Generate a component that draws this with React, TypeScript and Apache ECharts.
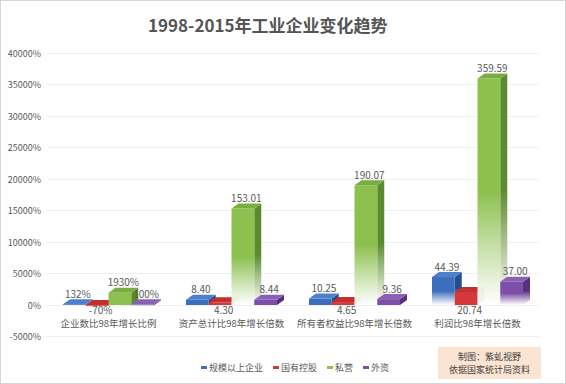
import React, { useEffect, useRef } from "react";
import * as echarts from "echarts";

const categories = ["企业数比98年增长比例", "资产总计比98年增长倍数", "所有者权益比98年增长倍数", "利润比98年增长倍数"];
const seriesNames = ["规模以上企业", "国有控股", "私营", "外资"];
// bar heights in % (倍数 × 100 for the last three groups)
const valScale = [132, 840, 1025, 4439];
const valState = [-70, 430, 465, 2074];
const valPrivate = [1930, 15301, 19007, 35959];
const valForeign = [100, 844, 936, 3700];
// data labels as shown
const lblScale = ["132%", "8.40", "10.25", "44.39"];
const lblState = ["-70%", "4.30", "4.65", "20.74"];
const lblPrivate = ["1930%", "153.01", "190.07", "359.59"];
const lblForeign = ["100%", "8.44", "9.36", "37.00"];
const yTicks = { min: -5000, max: 40000, interval: 5000 };

const FONT = "Noto Sans CJK SC";
const colors = [
  { front: "#3b6fbd", side: "#264f8c", top: "#4d80cc" },
  { front: "#d5383b", side: "#9a2226", top: "#c2302f" },
  { front: "#8cc04f", side: "#5c8a2e", top: "#7aad40" },
  { front: "#7e4fa8", side: "#57317d", top: "#8d60b8" },
];

const values = [valScale, valState, valPrivate, valForeign];
const labels = [lblScale, lblState, lblPrivate, lblForeign];

function makeRender(si: number) {
  return (params: any, api: any) => {
    const ci = api.value(0);
    const v = api.value(1);
    const top = api.coord([ci, v]);
    const base = api.coord([ci, 0]);
    const cw = api.size([1, 0])[0];
    const bw = cw * 0.185;
    const dx = 7;
    const dy = 5;
    const x0 = top[0] - 2 * bw + si * bw;
    const yTop = Math.min(top[1], base[1]);
    const yBot = Math.max(top[1], base[1]);
    const h = Math.max(yBot - yTop, 0.8);
    const c = colors[si];
    const fade = (col: string) =>
      new echarts.graphic.LinearGradient(0, 0, 0, 1, [
        { offset: 0, color: col },
        { offset: 0.5, color: col },
        { offset: 1, color: "rgba(255,255,255,0.95)" },
      ]);
    const lbl = labels[si][params.dataIndex];
    const lx = x0 + bw / 2 + dx / 2;
    const isBelow = si === 1;
    return {
      type: "group",
      children: [
        {
          type: "polygon",
          shape: { points: [[x0 + bw, yTop], [x0 + bw + dx, yTop - dy], [x0 + bw + dx, yTop + h - dy], [x0 + bw, yTop + h]] },
          style: { fill: h > 20 ? fade(c.side) : c.side },
        },
        {
          type: "rect",
          shape: { x: x0, y: yTop, width: bw, height: h },
          style: { fill: h > 20 ? fade(c.front) : c.front },
        },
        {
          type: "polygon",
          shape: { points: [[x0, yTop], [x0 + dx, yTop - dy], [x0 + bw + dx, yTop - dy], [x0 + bw, yTop]] },
          style: { fill: c.top },
        },
        {
          type: "text",
          style: {
            text: lbl,
            x: lx,
            y: isBelow ? yTop + h - 1 : yTop - dy - 1,
            align: "center",
            verticalAlign: isBelow ? "top" : "bottom",
            fontSize: 10,
            fontFamily: FONT,
            fill: "#595959",
          },
          z2: 10,
        },
      ],
    };
  };
}

export default function App() {
  const ref = useRef<HTMLDivElement>(null);
  useEffect(() => {
    if (!ref.current) return;
    const chart = echarts.init(ref.current, undefined, { renderer: "svg" });
    chart.setOption({
      animation: false,
      backgroundColor: "#ffffff",
      textStyle: { fontFamily: FONT },
      title: {
        text: "1998-2015年工业企业变化趋势",
        left: 142,
        top: 10,
        textStyle: { fontSize: 17, fontWeight: "bold", color: "#555555", fontFamily: FONT },
      },
      legend: {
        data: seriesNames,
        left: 195,
        top: 357,
        itemWidth: 6,
        itemHeight: 3,
        itemGap: 10,
        icon: "rect",
        textStyle: { fontSize: 9, color: "#595959", fontFamily: FONT, padding: [0, 0, 0, -3] },
      },
      grid: { left: 46, right: 26, top: 52, bottom: 46.5 },
      xAxis: {
        type: "category",
        data: categories,
        axisLine: { show: false },
        axisTick: { show: false },
        axisLabel: {
          interval: 0,
          fontSize: 9.5,
          color: "#595959",
          margin: -18,
          verticalAlign: "top",
          fontFamily: FONT,
        },
      },
      yAxis: {
        type: "value",
        min: yTicks.min,
        max: yTicks.max,
        interval: yTicks.interval,
        axisLine: { show: false },
        axisTick: { show: false },
        splitLine: { lineStyle: { color: "#efefef", width: 1 } },
        axisLabel: {
          formatter: (v: number) => v + "%",
          fontSize: 9,
          color: "#595959",
          margin: 6,
          padding: [12, 0, 0, 0],
          fontFamily: FONT,
        },
      },
      graphic: [
        {
          type: "group",
          left: 437,
          top: 346,
          children: [
            { type: "rect", shape: { x: 0, y: 0, width: 103, height: 32 }, style: { fill: "#fce4d3" } },
            {
              type: "text",
              style: {
                text: "制图：紫虬视野\n依据国家统计局资料",
                x: 51.5,
                y: 16,
                align: "center",
                verticalAlign: "middle",
                fontSize: 9,
                lineHeight: 13,
                fontFamily: FONT,
                fill: "#404040",
              },
            },
          ],
        },
      ],
      series: values.map((vals, si) => ({
        type: "custom",
        name: seriesNames[si],
        itemStyle: { color: colors[si].front },
        renderItem: makeRender(si),
        encode: { x: 0, y: 1 },
        data: vals.map((v, i) => [i, v]),
        z: 2 + si,
      })),
    });
    return () => chart.dispose();
  }, []);
  return (
    <div
      ref={ref}
      style={{
        position: "absolute",
        left: 0,
        top: 0,
        width: 566,
        height: 384,
        boxSizing: "border-box",
        border: "1px solid #d6d6d6",
      }}
    />
  );
}
